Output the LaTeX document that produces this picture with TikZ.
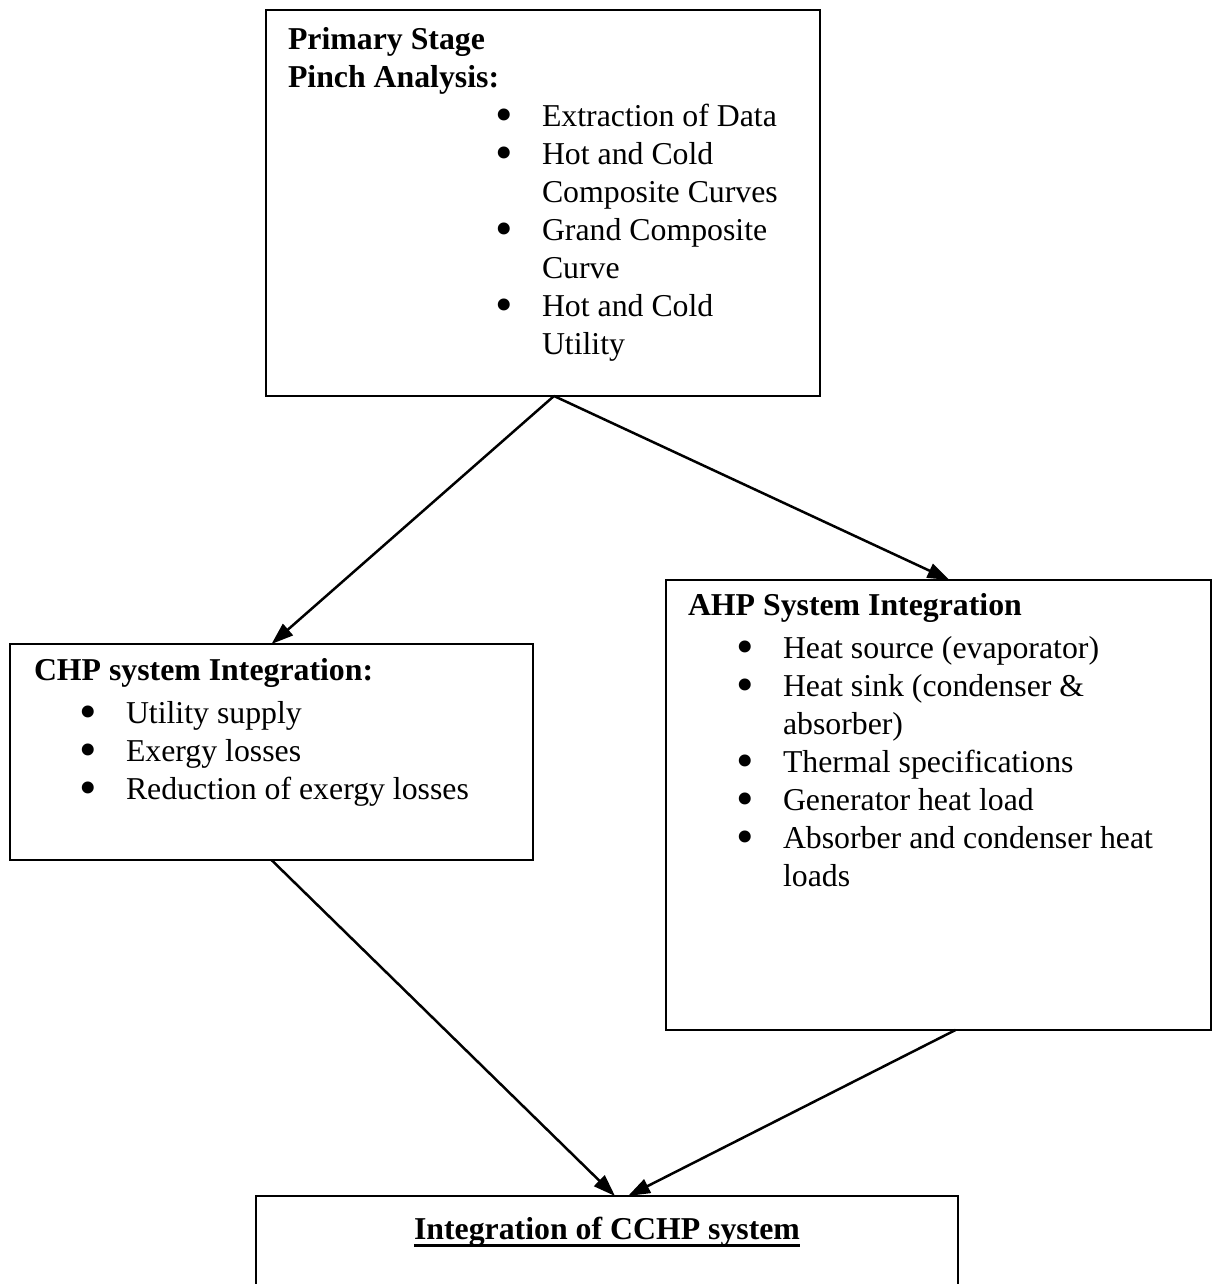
\documentclass[tikz,border=0pt]{standalone}
\usepackage{fontspec}
\setmainfont{Liberation Serif}
\usetikzlibrary{arrows.meta}
\newcommand\bigfont{\fontsize{31.8}{38}\selectfont}
\newcommand\bul{\makebox[76pt][c]{\raisebox{-5.5pt}{\fontsize{50}{38}\selectfont\textbullet}}}
\tikzset{
  box/.style={draw, line width=2.5pt, inner sep=0pt, outer sep=0pt, anchor=north west},
  txt/.style={inner sep=0pt, outer sep=0pt, anchor=north west, font=\bigfont, align=left},
  conn/.style={line width=2.5pt, -{Triangle[length=22pt,width=15pt]}}
}
\begin{document}
\begin{tikzpicture}[x=1pt,y=-1pt]
\useasboundingbox[fill=white] (0,0) rectangle (1213,1284);
% boxes
\node[box, minimum width=554pt, minimum height=386pt] (top) at (266,10) {};
\node[box, minimum width=523pt, minimum height=216pt] (chp) at (10,644) {};
\node[box, minimum width=545pt, minimum height=450pt] (ahp) at (666,580) {};
\node[box, minimum width=702pt, minimum height=130pt] (cchp) at (256,1196) {};
% texts
\node[txt] (tophead) at (288,23.4) {\begin{tabular}{@{}l@{}}\textbf{Primary Stage}\\ \textbf{Pinch Analysis:}\end{tabular}};
\node[txt] (toplist) at (466,99.4) {\begin{tabular}{@{}l@{}l@{}}
\bul & Extraction of Data\\
\bul & Hot and Cold\\
 & Composite Curves\\
\bul & Grand Composite\\
 & Curve\\
\bul & Hot and Cold\\
 & Utility
\end{tabular}};
\node[txt] (chphead) at (34,658.4) {\textbf{CHP system Integration:}};
\node[txt] (chplist) at (50,696.4) {\begin{tabular}{@{}l@{}l@{}}
\bul & Utility supply\\
\bul & Exergy losses\\
\bul & Reduction of exergy losses
\end{tabular}};
\node[txt] (ahphead) at (688,593.4) {\textbf{AHP System Integration}};
\node[txt] (ahplist) at (707,631.4) {\begin{tabular}{@{}l@{}l@{}}
\bul & Heat source (evaporator)\\
\bul & Heat sink (condenser \&\\
 & absorber)\\
\bul & Thermal specifications\\
\bul & Generator heat load\\
\bul & Absorber and condenser heat\\
 & loads
\end{tabular}};
\node[inner sep=0pt, outer sep=0pt, anchor=base, font=\bigfont] (title) at (607,1239) {\textbf{Integration of CCHP system}};
\draw[line width=3pt] ([yshift=-6pt]title.base west) -- ([yshift=-6pt]title.base east);
% connector end points
\coordinate (topout) at ([xshift=11pt]top.south);
\coordinate (ahpin) at ([xshift=11pt]ahp.north);
\coordinate (ahpout) at ([xshift=17pt]ahp.south);
\coordinate (cchpinL) at ([xshift=8pt]cchp.north);
\coordinate (cchpinR) at ([xshift=21pt]cchp.north);
% connectors
\draw[conn] (topout) -- (chp.north);
\draw[conn] (topout) -- (ahpin);
\draw[conn] (chp.south) -- (cchpinL);
\draw[conn] (ahpout) -- (cchpinR);
\end{tikzpicture}
\end{document}
